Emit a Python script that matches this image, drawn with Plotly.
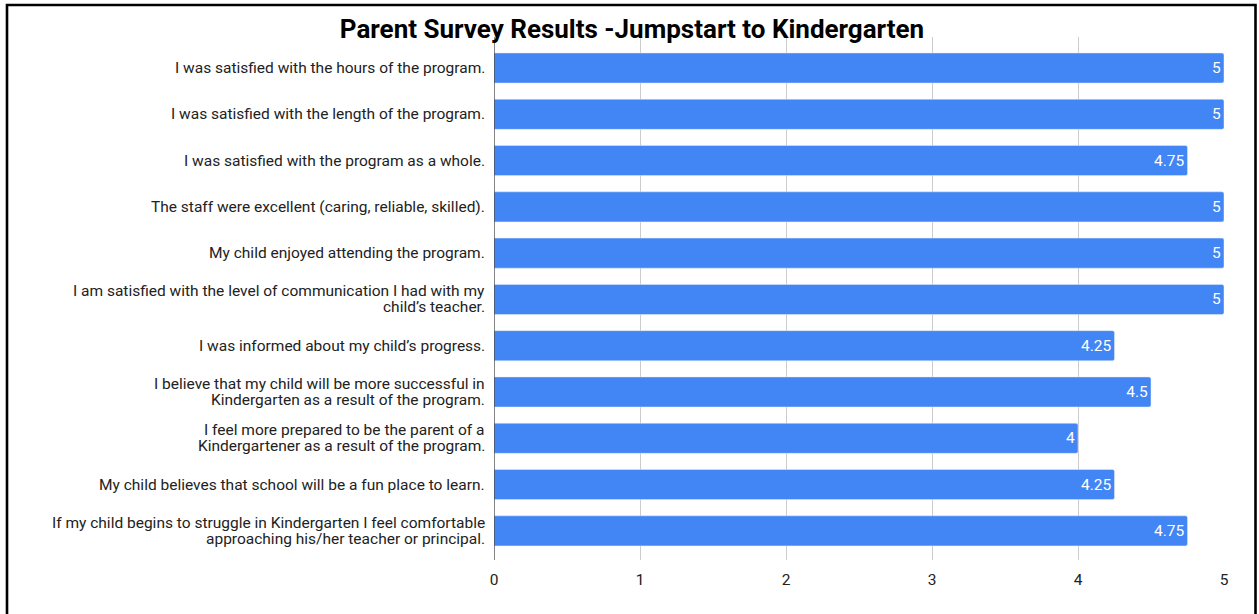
import plotly.graph_objects as go

# Survey statements (top to bottom, "<br>" marks a line break) and their average ratings
statements = [
    "I was satisfied with the hours of the program.",
    "I was satisfied with the length of the program.",
    "I was satisfied with the program as a whole.",
    "The staff were excellent (caring, reliable, skilled).",
    "My child enjoyed attending the program.",
    "I am satisfied with the level of communication I had with my<br>child\u2019s teacher.",
    "I was informed about my child\u2019s progress.",
    "I believe that my child will be more successful in<br>Kindergarten as a result of the program.",
    "I feel more prepared to be the parent of a<br>Kindergartener as a result of the program.",
    "My child believes that school will be a fun place to learn.",
    "If my child begins to struggle in Kindergarten I feel comfortable<br>approaching his/her teacher or principal.",
]
ratings = [5, 5, 4.75, 5, 5, 5, 4.25, 4.5, 4, 4.25, 4.75]
x_ticks = [0, 1, 2, 3, 4, 5]

W, H = 1259, 614
L, R, T, B = 494, 35, 37, 54
plot_w = W - L - R
plot_h = H - T - B

FONT = "Roboto"
TEXT = "#222222"
LABEL_SIZE = 15.5
LINE_GAP = 16  # px between lines of a wrapped category label


def px_x(px):
    return (px - L) / plot_w


def px_y(py):
    return (H - B - py) / plot_h


fig = go.Figure(
    go.Bar(
        x=ratings,
        y=statements,
        orientation="h",
        marker=dict(color="#4285F4", cornerradius=2),
        text=[f"{v:g}" for v in ratings],
        textposition="inside",
        insidetextanchor="end",
        textangle=0,
        insidetextfont=dict(family=FONT, size=15.5, color="white"),
        hoverinfo="skip",
    )
)

# Category labels, drawn line by line so wrapped labels keep a tight leading
annotations = []
for cat in statements:
    lines = cat.split("<br>")
    n = len(lines)
    for i, line in enumerate(lines):
        offset = ((n - 1) / 2 - i) * LINE_GAP
        annotations.append(
            dict(
                text=line,
                x=px_x(487),
                xref="paper",
                xanchor="right",
                y=cat,
                yref="y",
                yanchor="middle",
                yshift=offset,
                showarrow=False,
                font=dict(family=FONT, size=LABEL_SIZE, color=TEXT),
            )
        )

fig.update_layout(
    width=W,
    height=H,
    margin=dict(l=L, r=R, t=T, b=B, autoexpand=False),
    paper_bgcolor="white",
    plot_bgcolor="white",
    bargap=0.35,
    showlegend=False,
    font=dict(family=FONT, size=LABEL_SIZE, color=TEXT),
    title=dict(
        text="<b>Parent Survey Results -Jumpstart to Kindergarten</b>",
        x=632 / W,
        xanchor="center",
        xref="container",
        y=1 - 29 / H,
        yref="container",
        yanchor="middle",
        font=dict(family=FONT, size=26, color="#000000"),
    ),
    xaxis=dict(
        range=[0, 5],
        tickvals=x_ticks,
        showgrid=True,
        gridcolor="#cccccc",
        gridwidth=1,
        zeroline=False,
        showline=False,
        ticks="outside",
        ticklen=5,
        tickcolor="rgba(0,0,0,0)",
        tickfont=dict(family=FONT, size=LABEL_SIZE, color=TEXT),
        fixedrange=True,
    ),
    yaxis=dict(
        type="category",
        categoryorder="array",
        categoryarray=statements,
        range=[10.63, -0.67],
        showgrid=False,
        zeroline=False,
        showline=False,
        showticklabels=False,
        fixedrange=True,
    ),
    annotations=annotations,
    shapes=[
        # baseline at zero
        dict(type="line", xref="x", yref="paper", x0=0, x1=0, y0=0, y1=1,
             line=dict(color="#333333", width=1.2)),
        # outer frame
        dict(type="rect", xref="paper", yref="paper",
             x0=px_x(7), x1=px_x(1255.5), y0=px_y(620), y1=px_y(5),
             line=dict(color="#000000", width=2.6), fillcolor="rgba(0,0,0,0)"),
    ],
)

fig.write_html("out.html")
